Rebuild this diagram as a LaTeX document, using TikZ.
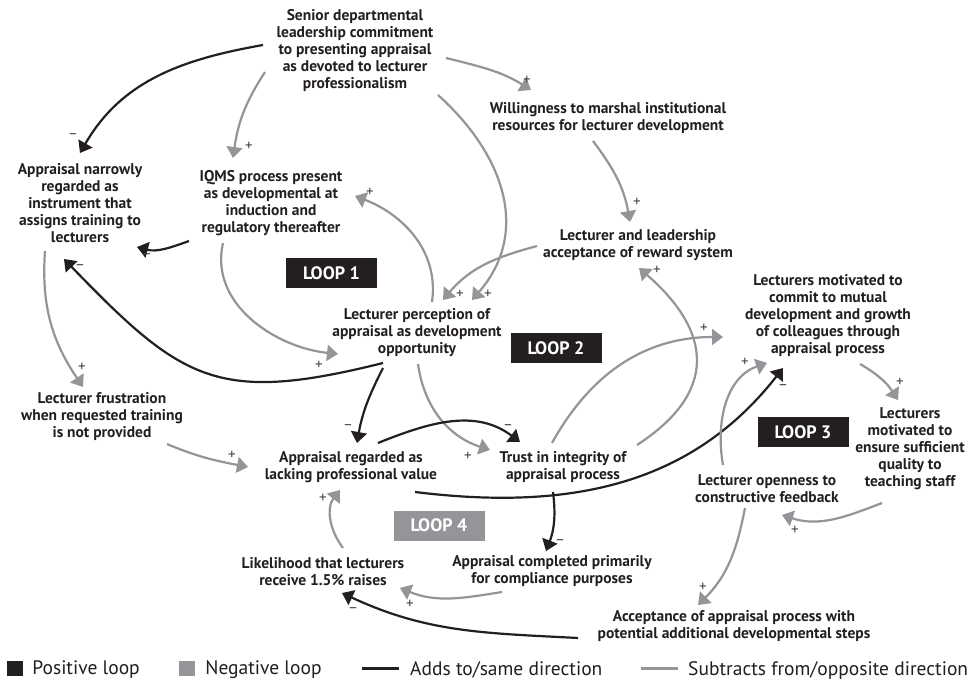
\documentclass[tikz,border=0pt]{standalone}
\usepackage{fontspec}
\setmainfont{PT Sans}
\usepackage{tikz}
\usetikzlibrary{arrows.meta, positioning}

\definecolor{dark}{HTML}{231F20}
\definecolor{lgray}{HTML}{939598}
\definecolor{signc}{HTML}{414042}

\begin{document}
\begin{tikzpicture}[x=1pt, y=1pt,
    % factor texts and loop tags
    fac/.style={align=center, text=dark, inner sep=1pt, font=\bfseries\fontsize{15.5}{17}\selectfont},
    looptag/.style={text=white, inner sep=0pt, minimum width=91pt, minimum height=30pt, font=\bfseries\fontsize{18}{18}\selectfont},
    % links (black and gray) and their signs
    blk/.style={draw=dark, line width=2.2pt, -{Triangle[length=11pt, width=16pt]}},
    gry/.style={draw=lgray, line width=2.2pt, -{Triangle[length=11pt, width=16pt]}},
    sgn/.style={text=signc, inner sep=0pt, font=\fontsize{15}{15}\selectfont},
    % legend
    key/.style={minimum width=16pt, minimum height=15pt, inner sep=0pt},
    keytxt/.style={text=dark, inner sep=0pt, text depth=0pt, font=\fontsize{19.5}{20}\selectfont}]

\fill[white] (0,0) rectangle (980,-680);
\useasboundingbox (0,0) rectangle (980,-680);

% Factors
\node[fac] (sen) at (355,-51) {Senior departmental\\leadership commitment\\to presenting appraisal\\as devoted to lecturer\\professionalism};
\node[fac] (will) at (608,-118.5) {Willingness to marshal institutional\\resources for lecturer development};
\node[fac] (narrow) at (80,-203) {Appraisal narrowly\\regarded as\\instrument that\\assigns training to\\lecturers};
\node[fac] (iqms) at (271,-203.5) {IQMS process present\\as developmental at\\induction and\\regulatory thereafter};
\node[fac] (accept) at (638,-245.5) {Lecturer and leadership\\acceptance of reward system};
\node[fac] (perc) at (417,-332.5) {Lecturer perception of\\appraisal as development\\opportunity};
\node[fac] (commit) at (828,-315.5) {Lecturers motivated to\\commit to mutual\\development and growth\\of colleagues through\\appraisal process};
\node[fac] (frust) at (102,-417) {Lecturer frustration\\when requested training\\is not provided};
\node[fac] (lack) at (351,-467) {Appraisal regarded as\\lacking professional value};
\node[fac] (trust) at (563,-467) {Trust in integrity of\\appraisal process};
\node[fac] (ensure) at (910,-449) {Lecturers\\motivated to\\ensure sufficient\\quality to\\teaching staff};
\node[fac] (open) at (767,-488.5) {Lecturer openness to\\constructive feedback};
\node[fac] (likely) at (323,-571.5) {Likelihood that lecturers\\receive 1.5\% raises};
\node[fac] (compl) at (552,-571.5) {Appraisal completed primarily\\for compliance purposes};
\node[fac] (accproc) at (734,-626) {Acceptance of appraisal process with\\potential additional developmental steps};

% Loop tags
\node[looptag, fill=dark] (loop1) at (331.5,-273) {LOOP 1};
\node[looptag, fill=dark] (loop2) at (556,-348) {LOOP 2};
\node[looptag, fill=dark] (loop3) at (803,-432) {LOOP 3};
\node[looptag, fill=lgray] (loop4) at (439,-525.5) {LOOP 4};

% Links from the senior leadership
\draw[blk] ([shift={(-92,6)}]sen.center) to[out=190, in=60] node[sgn, at end, shift={(-7,17)}] {–} ([shift={(0,50)}]narrow.center);
\draw[gry] ([shift={(-90,-21)}]sen.center) to[out=237, in=82] node[sgn, at end, shift={(16,12)}] {+} ([shift={(-38,45.5)}]iqms.center);
\draw[gry] ([shift={(91,-7)}]sen.center) to[out=-14, in=148] node[sgn, at end, shift={(-4,10)}] {+} ([shift={(-77,28.5)}]will.center);
\draw[gry] ([shift={(83,-44)}]sen.center) to[out=-42, in=49, looseness=1.1] node[sgn, at end, shift={(16,6)}] {+} ([shift={(55,32.5)}]perc.center);
\draw[gry] ([shift={(-15,-22.5)}]will.center) to[out=-53, in=100] node[sgn, at end, shift={(7,20)}] {+} ([shift={(-8,23.5)}]accept.center);
\draw[gry] ([shift={(-101,-0.5)}]accept.center) to[out=195, in=50] node[sgn, at end, shift={(17,6)}] {+} ([shift={(26,32.5)}]perc.center);

% Loop 1
\draw[blk] ([shift={(-82,-37.5)}]iqms.center) to[out=200, in=-15] node[sgn, at end, shift={(10,-9)}] {–} ([shift={(57,-44)}]narrow.center);
\draw[blk] ([shift={(-34,-30.5)}]perc.center) to[out=194, in=314, looseness=1.3] node[sgn, at end, shift={(16,-8)}] {–} ([shift={(-16,-56)}]narrow.center);
\draw[gry] ([shift={(-48,-39.5)}]iqms.center) to[out=257, in=174] node[sgn, at end, shift={(-19,-11)}] {+} ([shift={(-79,-21.5)}]perc.center);
\draw[gry] ([shift={(15,30.5)}]perc.center) to[out=82, in=339] node[sgn, at end, shift={(15,4)}] {+} ([shift={(84,7.5)}]iqms.center);
\draw[gry] ([shift={(-35,-48)}]narrow.center) to[out=266, in=124] node[sgn, at end, shift={(-1,20)}] {+} ([shift={(-19,30)}]frust.center);
\draw[gry] ([shift={(65,-27)}]frust.center) to[out=-23, in=169] node[sgn, at end, shift={(-16,12)}] {+} ([shift={(-103,0)}]lack.center);

% Loop 2
\draw[blk] ([shift={(-34,-35.5)}]perc.center) to[out=243, in=80] node[sgn, at end, shift={(-9,16)}] {–} ([shift={(6,24)}]lack.center);
\draw[gry] ([shift={(1,-31.5)}]perc.center) to[out=-82, in=162] node[sgn, at end, shift={(-22,-6)}] {+} ([shift={(-73,17)}]trust.center);
\draw[blk] ([shift={(27,24)}]lack.center) to[out=22, in=143] node[sgn, at end, shift={(-12,15)}] {–} ([shift={(-43,25)}]trust.center);
\draw[gry] ([shift={(74,22)}]trust.center) to[out=33, in=319, looseness=1.4] node[sgn, at end, shift={(18,-2)}] {+} ([shift={(1,-22.5)}]accept.center);
\draw[gry] ([shift={(-11,24)}]trust.center) to[out=61, in=180] node[sgn, at end, shift={(-19,9)}] {+} ([shift={(-105,-21.5)}]commit.center);

% Loop 3
\draw[blk] ([shift={(64,-25)}]lack.center) to[out=-7, in=232] node[sgn, at end, shift={(0,-19)}] {–} ([shift={(-45,-52.5)}]commit.center);
\draw[gry] ([shift={(32,-48.5)}]commit.center) to[out=-30, in=123] node[sgn, at end, shift={(2,18)}] {+} ([shift={(-12,49)}]ensure.center);
\draw[gry] ([shift={(-28,-54)}]ensure.center) to[out=201, in=342] node[sgn, at end, shift={(13,-15)}] {+} ([shift={(15,-26.5)}]open.center);
\draw[gry] ([shift={(-44,23.5)}]open.center) to[out=100, in=199] node[sgn, at end, shift={(-22,1)}] {+} ([shift={(-61,-47.5)}]commit.center);
\draw[gry] ([shift={(-22,-19.5)}]open.center) to[out=259, in=45] node[sgn, at end, shift={(5,18)}] {+} ([shift={(-36,21)}]accproc.center);

% Loop 4
\draw[blk] ([shift={(-10,-25)}]trust.center) to[out=-83, in=69] node[sgn, at end, shift={(14,9)}] {–} ([shift={(-6,20.5)}]compl.center);
\draw[blk] ([shift={(-156,-12)}]accproc.center) to[out=177, in=335] node[sgn, at end, shift={(11,-17)}] {–} ([shift={(19,-21.5)}]likely.center);
\draw[gry] ([shift={(-50,-20.5)}]compl.center) to[out=189, in=338] node[sgn, at end, shift={(10,-16)}] {+} ([shift={(77,-16.5)}]likely.center);
\draw[gry] ([shift={(20,23.5)}]likely.center) to[out=127, in=232] node[sgn, at end, shift={(-17,-8)}] {+} ([shift={(-11,-23)}]lack.center);

% Legend
\node[key, fill=dark] (kpos) at (15,-668) {};
\node[keytxt, right=9pt of kpos] (tpos) {Positive loop};
\node[key, fill=lgray] (kneg) at (187,-668) {};
\node[keytxt, right=10pt of kneg] (tneg) {Negative loop};
\coordinate (kadd1) at (362,-668.5);
\coordinate (kadd2) at (399,-668.5);
\draw[dark, line width=2.5pt] (kadd1) -- (kadd2);
\node[keytxt, right=11pt of kadd2] (tadd) {Adds to/same direction};
\coordinate (ksub1) at (641,-668.5);
\coordinate (ksub2) at (678,-668.5);
\draw[lgray, line width=2.5pt] (ksub1) -- (ksub2);
\node[keytxt, right=10pt of ksub2] (tsub) {Subtracts from/opposite direction};

\end{tikzpicture}
\end{document}
